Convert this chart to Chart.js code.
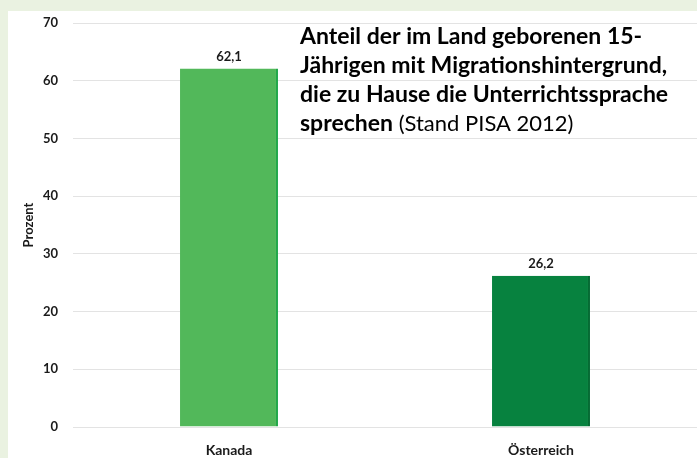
<!DOCTYPE html>
<html>
<head>
<meta charset="utf-8">
<script src="https://cdn.jsdelivr.net/npm/chart.js@4"></script>
<style>
  html, body { margin: 0; padding: 0; background: #eaf2e1; }
  #wrap { width: 697px; height: 458px; }
</style>
</head>
<body>
<div id="wrap"><canvas id="chart" width="697" height="458"></canvas></div>
<script>
// Daten
const countries = ['Kanada', 'Österreich'];
const shares = [62.1, 26.2];
const barColors = ['#52b85a', '#07823f'];
const barEdges = ['#22a84a', '#056b33'];
const titleLines = [
    'Anteil der im Land geborenen 15-',
    'Jährigen mit Migrationshintergrund,',
    'die zu Hause die Unterrichtssprache'
];
const titleLastBold = 'sprechen';
const titleLastNormal = ' (Stand PISA 2012)';

const FONT = 'Lato, "Open Sans", sans-serif';

// Hintergrund + weiße Karte
const cardPlugin = {
    id: 'card',
    beforeDraw(chart) {
        const ctx = chart.ctx;
        ctx.save();
        ctx.fillStyle = '#eaf2e1';
        ctx.fillRect(0, 0, chart.width, chart.height);
        ctx.fillStyle = '#ffffff';
        ctx.fillRect(8, 11, chart.width - 8, chart.height - 11);
        ctx.restore();
    }
};

// Werte über den Balken
const valuePlugin = {
    id: 'values',
    afterDatasetsDraw(chart) {
        const ctx = chart.ctx;
        const meta = chart.getDatasetMeta(0);
        ctx.save();
        ctx.font = 'bold 13px ' + FONT;
        ctx.fillStyle = '#1a1a1a';
        ctx.textAlign = 'center';
        ctx.textBaseline = 'middle';
        meta.data.forEach((bar, i) => {
            ctx.fillText(shares[i].toFixed(1).replace('.', ','), bar.x, bar.y - 12);
        });
        ctx.restore();
    }
};

// Titel im Diagramm
const titlePlugin = {
    id: 'innerTitle',
    afterDraw(chart) {
        const ctx = chart.ctx;
        const x = 300, y0 = 37, lh = 29;
        ctx.save();
        ctx.fillStyle = '#000000';
        ctx.textBaseline = 'middle';
        ctx.textAlign = 'left';
        ctx.font = 'bold 23px ' + FONT;
        titleLines.forEach((t, i) => ctx.fillText(t, x, y0 + i * lh));
        const y = y0 + titleLines.length * lh;
        ctx.fillText(titleLastBold, x, y);
        const w = ctx.measureText(titleLastBold).width;
        ctx.font = '22px ' + FONT;
        ctx.fillText(titleLastNormal, x + w, y);
        ctx.restore();
    }
};

new Chart(document.getElementById('chart'), {
    type: 'bar',
    data: {
        labels: countries,
        datasets: [{
            data: shares,
            backgroundColor: barColors,
            borderColor: barEdges,
            borderWidth: { left: 0, top: 0, bottom: 0, right: 2 },
            borderSkipped: false,
            categoryPercentage: 1,
            barPercentage: 0.314
        }]
    },
    options: {
        responsive: false,
        animation: false,
        layout: { padding: { top: 23, right: 0, left: 0, bottom: 0 } },
        plugins: {
            legend: { display: false },
            tooltip: { enabled: false }
        },
        scales: {
            x: {
                grid: { display: false },
                border: { display: false },
                ticks: {
                    color: '#1a1a1a',
                    font: { family: FONT, size: 14, weight: 'bold' },
                    padding: 7
                },
                afterFit(scale) { scale.height = 31; }
            },
            y: {
                min: 0,
                max: 70,
                ticks: {
                    stepSize: 10,
                    color: '#1a1a1a',
                    font: { family: FONT, size: 13, weight: 'bold' },
                    padding: 15
                },
                grid: { color: '#e3e3e3', lineWidth: 1, drawTicks: false },
                border: { display: false },
                title: {
                    display: true,
                    text: 'Prozent',
                    color: '#1a1a1a',
                    font: { family: FONT, size: 13, weight: 'bold' },
                    padding: { top: 21, bottom: 0 }
                },
                afterFit(scale) { scale.width = 73; }
            }
        }
    },
    plugins: [cardPlugin, valuePlugin, titlePlugin]
});
</script>
</body>
</html>
